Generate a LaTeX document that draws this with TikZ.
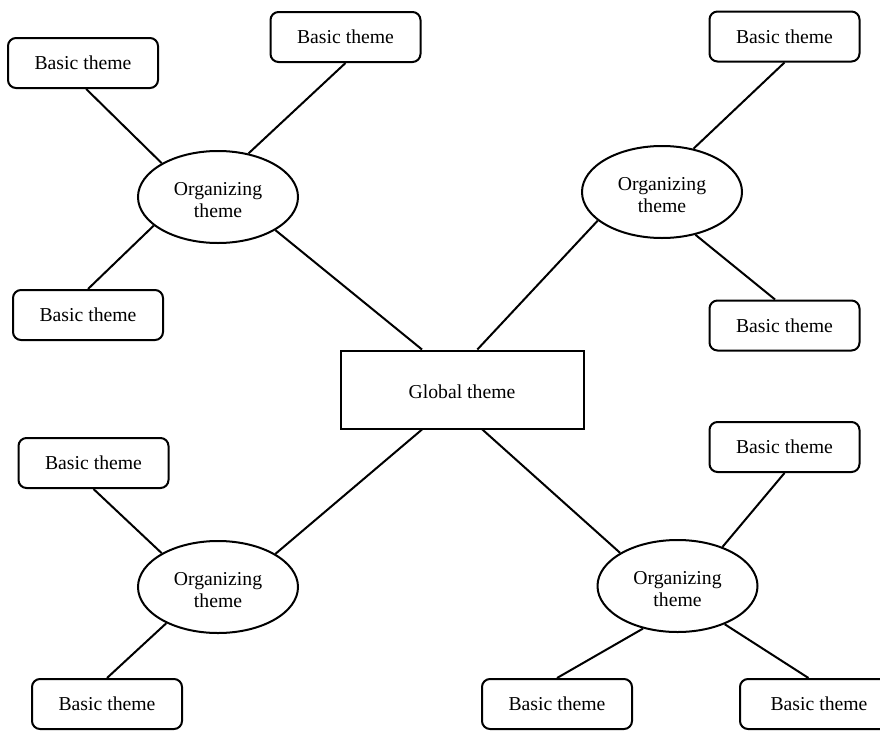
\documentclass[tikz,border=0pt]{standalone}
\usepackage{fontspec}
\setmainfont{Liberation Serif}
\usetikzlibrary{shapes.geometric}

% move a label down without changing the size of its box
\newcommand{\lowered}[2]{\raisebox{-#1}[\height][\depth]{#2}}

\tikzset{
  txt/.style={font=\fontsize{19.7}{21.5}\selectfont, text=black},
  basicbox/.style={txt, draw, line width=2pt, rounded corners=8pt,
    minimum width=150pt, minimum height=50pt, inner sep=0pt},
  orgell/.style={txt, ellipse, draw, line width=2pt,
    minimum width=160pt, minimum height=92pt, inner sep=0pt},
  globalbox/.style={txt, draw, line width=2pt, rectangle,
    minimum width=243pt, minimum height=78pt, inner sep=0pt},
  link/.style={line width=2pt}
}
\newcommand{\orgtext}{\lowered{5pt}{\begin{tabular}{@{}c@{}}Organizing\\theme\end{tabular}}}

\begin{document}
\begin{tikzpicture}[x=1pt, y=-1pt]
  \useasboundingbox[fill=white] (0,0) rectangle (880,731);

  % central node
  \node[globalbox] (g) at (462,389.5) {\lowered{2.5pt}{Global theme}};

  % organizing themes
  \node[orgell] (tle) at (218,197) {\orgtext};
  \node[orgell] (tre) at (662,192) {\orgtext};
  \node[orgell] (ble) at (218,587) {\orgtext};
  \node[orgell] (bre) at (677.5,586) {\orgtext};

  % basic themes
  \node[basicbox] (tl1) at (83,63) {Basic theme};
  \node[basicbox] (tl2) at (345.5,37) {Basic theme};
  \node[basicbox] (tl3) at (88,315) {Basic theme};
  \node[basicbox] (tr1) at (784.5,36.5) {Basic theme};
  \node[basicbox] (tr2) at (784.5,325.5) {Basic theme};
  \node[basicbox] (bl1) at (93.5,463) {Basic theme};
  \node[basicbox] (bl2) at (107,704) {Basic theme};
  \node[basicbox] (br1) at (784.5,447) {Basic theme};
  \node[basicbox] (br2) at (557,704) {Basic theme};
  \node[basicbox, minimum width=158pt] (br3) at (819,704) {Basic theme};

  % global to organizing
  \draw[link] (g.135) -- (tle.330);
  \draw[link] (g.69) -- (tre.204);
  \draw[link] (g.225) -- (ble.30);
  \draw[link] (g.297) -- (bre.150);

  % top-left cluster
  \draw[link] (tle.149) -- (tl1.277);
  \draw[link] (tle.55) -- (tl2.south);
  \draw[link] (tle.204) -- (tl3.north);

  % top-right cluster
  \draw[link] (tre.54) -- (tr1.south);
  \draw[link] (tre.308) -- (tr2.110);

  % bottom-left cluster
  \draw[link] (ble.149) -- (bl1.south);
  \draw[link] (ble.215) -- (bl2.north);

  % bottom-right cluster
  \draw[link] (bre.41) -- (br1.south);
  \draw[link] (bre.231) -- (br2.north);
  \draw[link] (bre.321) -- (br3.112);
\end{tikzpicture}
\end{document}
